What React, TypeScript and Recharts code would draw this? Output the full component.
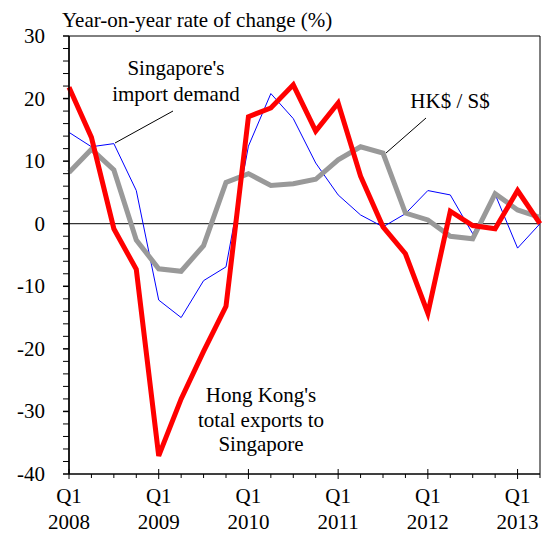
import { LineChart, Line, XAxis, YAxis, ReferenceLine, ReferenceArea } from "recharts";

const quarters = [
  "Q1 2008", "Q2 2008", "Q3 2008", "Q4 2008",
  "Q1 2009", "Q2 2009", "Q3 2009", "Q4 2009",
  "Q1 2010", "Q2 2010", "Q3 2010", "Q4 2010",
  "Q1 2011", "Q2 2011", "Q3 2011", "Q4 2011",
  "Q1 2012", "Q2 2012", "Q3 2012", "Q4 2012",
  "Q1 2013", "Q2 2013",
];

// Hong Kong's total exports to Singapore (red)
const hkExports = [21.8, 13.8, -0.8, -7.3, -37.1, -28.0, -20.4, -13.2, 17.1, 18.5, 22.2, 14.8, 19.3, 7.6, -0.5, -4.8, -14.3, 2.0, -0.3, -0.8, 5.3, 0.0];
// Singapore's import demand (blue)
const sgImports = [14.6, 12.3, 12.8, 5.3, -12.2, -15.0, -9.1, -6.9, 12.4, 20.8, 16.8, 9.7, 4.6, 1.4, -0.5, 1.6, 5.3, 4.6, -1.6, 4.7, -3.9, 0.0];
// HK$ / S$ (grey)
const hkdSgd = [8.2, 11.9, 8.6, -2.6, -7.2, -7.6, -3.5, 6.6, 8.0, 6.1, 6.4, 7.1, 10.2, 12.3, 11.3, 1.7, 0.6, -2.0, -2.4, 4.8, 2.2, 1.0];

const xTicks = [0, 1, 2, 3, 4, 5, 6, 7, 8, 9, 10, 11, 12, 13, 14, 15, 16, 17, 18, 19, 20, 21];
const yTicks = [
  -40, -38, -36, -34, -32, -30, -28, -26, -24, -22, -20, -18, -16, -14, -12, -10, -8, -6, -4, -2,
  0, 2, 4, 6, 8, 10, 12, 14, 16, 18, 20, 22, 24, 26, 28, 30,
];

const data = quarters.map((q, i) => ({
  idx: i,
  quarter: q,
  hkExports: hkExports[i],
  sgImports: sgImports[i],
  hkdSgd: hkdSgd[i],
}));

const FONT = '"Liberation Serif", "Times New Roman", serif';
const FS = 21;
const AXIS_X = 69;
const AXIS_Y = 474;

function XTick(props: any) {
  const { x, payload } = props;
  const [q, yr] = quarters[payload.value].split(" ");
  const major = q === "Q1";
  return (
    <g>
      <line
        x1={x}
        x2={x}
        y1={major ? AXIS_Y - 5 : AXIS_Y}
        y2={AXIS_Y + (major ? 5 : 4)}
        stroke="#000"
        strokeWidth={1}
      />
      {major && (
        <text x={x} y={503} textAnchor="middle" fontFamily={FONT} fontSize={FS} fill="#000">
          {q}
        </text>
      )}
      {major && (
        <text x={x} y={529} textAnchor="middle" fontFamily={FONT} fontSize={FS} fill="#000">
          {yr}
        </text>
      )}
    </g>
  );
}

function YTick(props: any) {
  const { y, payload } = props;
  const major = payload.value % 10 === 0;
  return (
    <g>
      <line x1={AXIS_X - 6} x2={AXIS_X} y1={y} y2={y} stroke="#000" strokeWidth={major ? 1.5 : 1} />
      {major && (
        <text x={45} y={y + 7} textAnchor="end" fontFamily={FONT} fontSize={FS} fill="#000">
          {payload.value}
        </text>
      )}
    </g>
  );
}

export default function App() {
  return (
    <div style={{ position: "absolute", left: 0, top: 0, width: 546, height: 537, background: "#fff" }}>
      <LineChart
        width={546}
        height={537}
        data={data}
        margin={{ top: 36, right: 6, left: 0, bottom: 0 }}
      >
        <XAxis
          dataKey="idx"
          type="number"
          domain={[0, 21]}
          ticks={xTicks}
          interval={0}
          height={63}
          tickLine={false}
          axisLine={{ stroke: "#000", strokeWidth: 1 }}
          tick={(p: any) => <XTick {...p} />}
        />
        <YAxis
          type="number"
          domain={[-40, 30]}
          ticks={yTicks}
          interval={0}
          width={69}
          tickLine={false}
          axisLine={{ stroke: "#000", strokeWidth: 1.5 }}
          tick={(p: any) => <YTick {...p} />}
        />
        <ReferenceArea x1={0} x2={21} y1={-40} y2={30} fill="none" stroke="#000" strokeWidth={1} fillOpacity={0} />
        <ReferenceLine y={0} stroke="#000" strokeWidth={1} />
        <Line
          dataKey="sgImports"
          stroke="#0000ff"
          strokeWidth={1}
          dot={false}
          isAnimationActive={false}
          strokeLinejoin="miter"
        />
        <Line
          dataKey="hkdSgd"
          stroke="#999999"
          strokeWidth={5}
          dot={false}
          isAnimationActive={false}
          strokeLinejoin="miter"
        />
        <Line
          dataKey="hkExports"
          stroke="#ff0000"
          strokeWidth={5}
          dot={false}
          isAnimationActive={false}
          strokeLinejoin="miter"
        />
      </LineChart>
      <svg
        width={546}
        height={537}
        style={{ position: "absolute", left: 0, top: 0, pointerEvents: "none" }}
      >
        <text x={62} y={27} fontFamily={FONT} fontSize={FS} fill="#000">
          Year-on-year rate of change (%)
        </text>
        <text x={176} y={75} textAnchor="middle" fontFamily={FONT} fontSize={FS} fill="#000">
          Singapore's
        </text>
        <text x={176} y={101} textAnchor="middle" fontFamily={FONT} fontSize={FS} fill="#000">
          import demand
        </text>
        <line x1={115} y1={143} x2={173} y2={111} stroke="#000" strokeWidth={1} />
        <text x={450} y={108} textAnchor="middle" fontFamily={FONT} fontSize={FS} fill="#000">
          HK$ / S$
        </text>
        <line x1={386} y1={153} x2={426} y2={118} stroke="#000" strokeWidth={1} />
        <text x={261} y={402} textAnchor="middle" fontFamily={FONT} fontSize={FS} fill="#000">
          Hong Kong's
        </text>
        <text x={261} y={427} textAnchor="middle" fontFamily={FONT} fontSize={FS} fill="#000">
          total exports to
        </text>
        <text x={261} y={451} textAnchor="middle" fontFamily={FONT} fontSize={FS} fill="#000">
          Singapore
        </text>
      </svg>
    </div>
  );
}
